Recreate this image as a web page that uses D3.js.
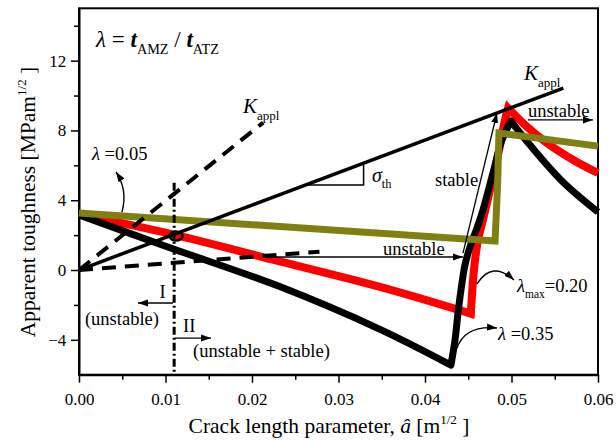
<!DOCTYPE html>
<html>
<head>
<meta charset="utf-8">
<script src="https://cdn.jsdelivr.net/npm/d3@7"></script>
<style>
  body { margin: 0; background: #fff; }
  text { font-family: "Liberation Serif", "Times New Roman", serif; fill: #000; }
</style>
</head>
<body>
<svg id="chart"></svg>
<script>
// curve data: [crack length parameter, apparent toughness]
// each curve is split into its branches so the corners stay sharp
const lambda005 = [[0, 3.27], [0.0481, 1.66], [0.0484, 5.0], [0.04855, 7.85], [0.06, 7.1]];
const lambda020Fall = [[0, 3.2], [0.0112, 2.0], [0.0232, 0.49], [0.0348, -0.97], [0.0453, -2.5]];
const lambda020Rise = [[0.0453, -2.5], [0.04566, 0], [0.04613, 1.72], [0.0467, 2.87], [0.04751, 4.58],
  [0.04832, 6.3], [0.04925, 8.6], [0.0496, 9.28]];
const lambda020Decay = [[0.0496, 9.28], [0.05156, 8.31], [0.0541, 7.28], [0.05734, 6.25], [0.06, 5.56]];
const lambda035Fall = [[0, 3.15], [0.0101, 1.35], [0.0232, -0.95], [0.0348, -3.4], [0.043, -5.45]];
const lambda035Rise = [[0.043, -5.45], [0.04347, -4.01], [0.04382, -2.46], [0.04416, -1.15], [0.04462, 0.29],
  [0.0452, 1.32], [0.04601, 2.41], [0.0467, 3.44], [0.04786, 5.56], [0.0489, 7.45], [0.04994, 8.54]];
const lambda035Decay = [[0.04994, 8.54], [0.05214, 7.16], [0.05595, 5.04], [0.06, 3.32]];
const kApplSolid = [[0, 0], [0.056, 10.43]];
const kApplSteep = [[0, 0], [0.0213, 8.45]];
const kApplFlat = [[0, 0], [0.0278, 1.05]];
const boundaryX = 0.011;       // dash-dot line between regions I and II
const boundaryTop = 5.0;
const sigmaLevel = 4.87;       // horizontal side of the slope triangle
const sigmaRun = 0.0329;

const xTicks = [0, 0.01, 0.02, 0.03, 0.04, 0.05, 0.06];
const xMinor = [0.005, 0.015, 0.025, 0.035, 0.045, 0.055];
const yTicks = [-4, 0, 4, 8, 12];
const yMinor = [-2, 2, 6, 10, 14];

const width = 616, height = 441;
const x = d3.scaleLinear().domain([0, 0.06]).range([79, 598]);
const y = d3.scaleLinear().domain([-6, 15]).range([374.7, 8.3]);

const svg = d3.select("#chart").attr("width", width).attr("height", height);
svg.append("rect").attr("width", width).attr("height", height).attr("fill", "#fff");

const defs = svg.append("defs");
defs.append("marker").attr("id", "ah")
  .attr("markerUnits", "userSpaceOnUse")
  .attr("markerWidth", 11).attr("markerHeight", 8)
  .attr("refX", 10).attr("refY", 4).attr("orient", "auto")
  .append("path").attr("d", "M0,0.5 L10,4 L0,7.5 Z").attr("fill", "#000");

const line = d3.line().x(d => x(d[0])).y(d => y(d[1]));
const smooth = d3.line().x(d => x(d[0])).y(d => y(d[1])).curve(d3.curveCatmullRom.alpha(0.5));

// join smooth branches into one path, dropping the repeated move-to
function branches(parts) {
  return parts.map((p, i) => {
    const d = smooth(p);
    return i ? d.replace(/^M[^A-Za-z]*/, "") : d;
  }).join("");
}

// frame
svg.append("rect")
  .attr("x", x(0)).attr("y", y(15))
  .attr("width", x(0.06) - x(0)).attr("height", y(-6) - y(15))
  .attr("fill", "none").attr("stroke", "#000").attr("stroke-width", 2);

// axes
const axX = svg.append("g").attr("transform", `translate(0,${y(-6)})`);
axX.call(d3.axisBottom(x).tickValues(xTicks).tickFormat(d3.format(".2f")).tickSize(8).tickSizeOuter(0));
axX.append("g").call(d3.axisBottom(x).tickValues(xMinor).tickFormat("").tickSize(5).tickSizeOuter(0))
  .call(g => g.select(".domain").remove());
axX.selectAll(".tick line").attr("stroke-width", 1.5);
axX.selectAll(".tick text").attr("font-size", 17).attr("font-family", "Liberation Serif").attr("dy", "1.15em");
axX.select(".domain").attr("stroke-width", 2);

const axY = svg.append("g").attr("transform", `translate(${x(0)},0)`);
axY.call(d3.axisLeft(y).tickValues(yTicks).tickSize(8).tickSizeOuter(0));
axY.append("g").call(d3.axisLeft(y).tickValues(yMinor).tickFormat("").tickSize(5).tickSizeOuter(0))
  .call(g => g.select(".domain").remove());
axY.selectAll(".tick line").attr("stroke-width", 1.5);
axY.selectAll(".tick text").attr("font-size", 17).attr("font-family", "Liberation Serif").attr("dx", "-0.1em");
axY.select(".domain").attr("stroke-width", 2);

// curves
const curves = svg.append("g").attr("fill", "none");
curves.append("path").attr("d", branches([lambda020Fall, lambda020Rise, lambda020Decay]))
  .attr("stroke", "#ff0000").attr("stroke-width", 8).attr("stroke-linejoin", "miter");
curves.append("path").attr("d", branches([lambda035Fall, lambda035Rise, lambda035Decay]))
  .attr("stroke", "#000").attr("stroke-width", 7).attr("stroke-linejoin", "round");
curves.append("path").attr("d", line(lambda005))
  .attr("stroke", "#7f7f14").attr("stroke-width", 7).attr("stroke-linejoin", "miter");

// applied K lines
curves.append("path").attr("d", line(kApplSteep))
  .attr("stroke", "#000").attr("stroke-width", 4).attr("stroke-dasharray", "14,9");
curves.append("path").attr("d", line(kApplFlat))
  .attr("stroke", "#000").attr("stroke-width", 4).attr("stroke-dasharray", "14,9");
curves.append("path").attr("d", line(kApplSolid.slice().reverse()))
  .attr("stroke", "#000").attr("stroke-width", 3.5).attr("marker-end", "url(#ah)");

// slope triangle
const kSlope = kApplSolid[1][1] / kApplSolid[1][0];
curves.append("path")
  .attr("d", line([[sigmaLevel / kSlope, sigmaLevel], [sigmaRun, sigmaLevel], [sigmaRun, sigmaRun * kSlope]]))
  .attr("stroke", "#000").attr("stroke-width", 1.5);

// region boundary
curves.append("path").attr("d", line([[boundaryX, boundaryTop], [boundaryX, -6]]))
  .attr("stroke", "#000").attr("stroke-width", 3).attr("stroke-dasharray", "8,3,2,3");
curves.append("ellipse")
  .attr("cx", x(0.01121)).attr("cy", y(1.95)).attr("rx", 6.5).attr("ry", 4.5)
  .attr("stroke", "#000").attr("stroke-width", 2.5);

// straight annotation arrows
const arrows = [
  [[0.01087, -1.89], [0.00682, -1.89]],
  [[0.0111, -3.9], [0.01526, -3.9]],
  [[0.0215, 0.745], [0.04439, 0.745]],
  [[0.0519, 8.6], [0.05942, 8.6]],
  [[0.04439, 0.97], [0.04832, 9.0]]
];
svg.append("g").selectAll("path").data(arrows).join("path")
  .attr("d", d => line(d)).attr("fill", "none")
  .attr("stroke", "#000").attr("stroke-width", 1.3).attr("marker-end", "url(#ah)");

// curved pointer arrows
const pointers = [
  [[0.00497, 3.32], [0.00566, 4.58], [0.00428, 5.62]],
  [[0.04601, -0.8], [0.04775, 0.57], [0.05029, -0.57]],
  [[0.0437, -4.47], [0.04462, -3.15], [0.04832, -3.32]]
];
svg.append("g").selectAll("path").data(pointers).join("path")
  .attr("d", d => `M${x(d[0][0])},${y(d[0][1])} Q${x(d[1][0])},${y(d[1][1])} ${x(d[2][0])},${y(d[2][1])}`)
  .attr("fill", "none").attr("stroke", "#000").attr("stroke-width", 1.4).attr("marker-end", "url(#ah)");

// text with sub/superscripts
function richText(g, xv, yv, parts, size) {
  const t = g.append("text").attr("x", x(xv)).attr("y", y(yv)).attr("font-size", size);
  let shift = 0;
  parts.forEach(p => {
    const target = p.sub ? size * 0.32 : p.sup ? -size * 0.42 : 0;
    const ts = t.append("tspan").text(p.t).attr("dy", target - shift);
    shift = target;
    if (p.sub || p.sup) ts.attr("font-size", size * 0.62);
    if (p.i) ts.attr("font-style", "italic");
    if (p.b) ts.attr("font-weight", "bold");
  });
  return t;
}

const notes = svg.append("g");
richText(notes, 0.00197, 12.78, [{t: "λ", i: 1}, {t: " = "}, {t: "t", i: 1, b: 1}, {t: "AMZ", sub: 1},
  {t: " / "}, {t: "t", i: 1, b: 1}, {t: "ATZ", sub: 1}], 23);
richText(notes, 0.01896, 9.0, [{t: "K", i: 1}, {t: "appl", sub: 1}], 21);
richText(notes, 0.05145, 10.89, [{t: "K", i: 1}, {t: "appl", sub: 1}], 21);
richText(notes, 0.03387, 5.04, [{t: "σ", i: 1}, {t: "th", sub: 1}], 20);
richText(notes, 0.04116, 4.81, [{t: "stable"}], 18.5);
richText(notes, 0.0519, 8.77, [{t: "unstable"}], 18.5);
richText(notes, 0.03514, 0.86, [{t: "unstable"}], 18.5);
richText(notes, 0.0015, 6.3, [{t: "λ", i: 1}, {t: " =0.05"}], 18.5);
richText(notes, 0.05064, -1.26, [{t: "λ", i: 1}, {t: "max", sub: 1}, {t: "=0.20"}], 18.5);
richText(notes, 0.04844, -4.01, [{t: "λ", i: 1}, {t: " =0.35"}], 18.5);
richText(notes, 0.0093, -1.6, [{t: "I"}], 18.5);
richText(notes, 0.00069, -3.15, [{t: "(unstable)"}], 18.5);
richText(notes, 0.01202, -3.55, [{t: "II"}], 18.5);
richText(notes, 0.01318, -4.99, [{t: "(unstable + stable)"}], 18.5);

// axis titles
const xt = svg.append("text").attr("x", 329).attr("y", 433).attr("text-anchor", "middle").attr("font-size", 21.5);
xt.append("tspan").text("Crack length parameter, ");
xt.append("tspan").text("â").attr("font-style", "italic");
xt.append("tspan").text(" [m");
xt.append("tspan").text("1/2").attr("font-size", 13).attr("dy", -9);
xt.append("tspan").text(" ]").attr("dy", 9);

const yt = svg.append("text").attr("transform", "translate(35,202) rotate(-90)")
  .attr("text-anchor", "middle").attr("font-size", 21.5);
yt.append("tspan").text("Apparent toughness [MPam");
yt.append("tspan").text("1/2").attr("font-size", 13).attr("dy", -9);
yt.append("tspan").text(" ]").attr("dy", 9);
</script>
</body>
</html>
